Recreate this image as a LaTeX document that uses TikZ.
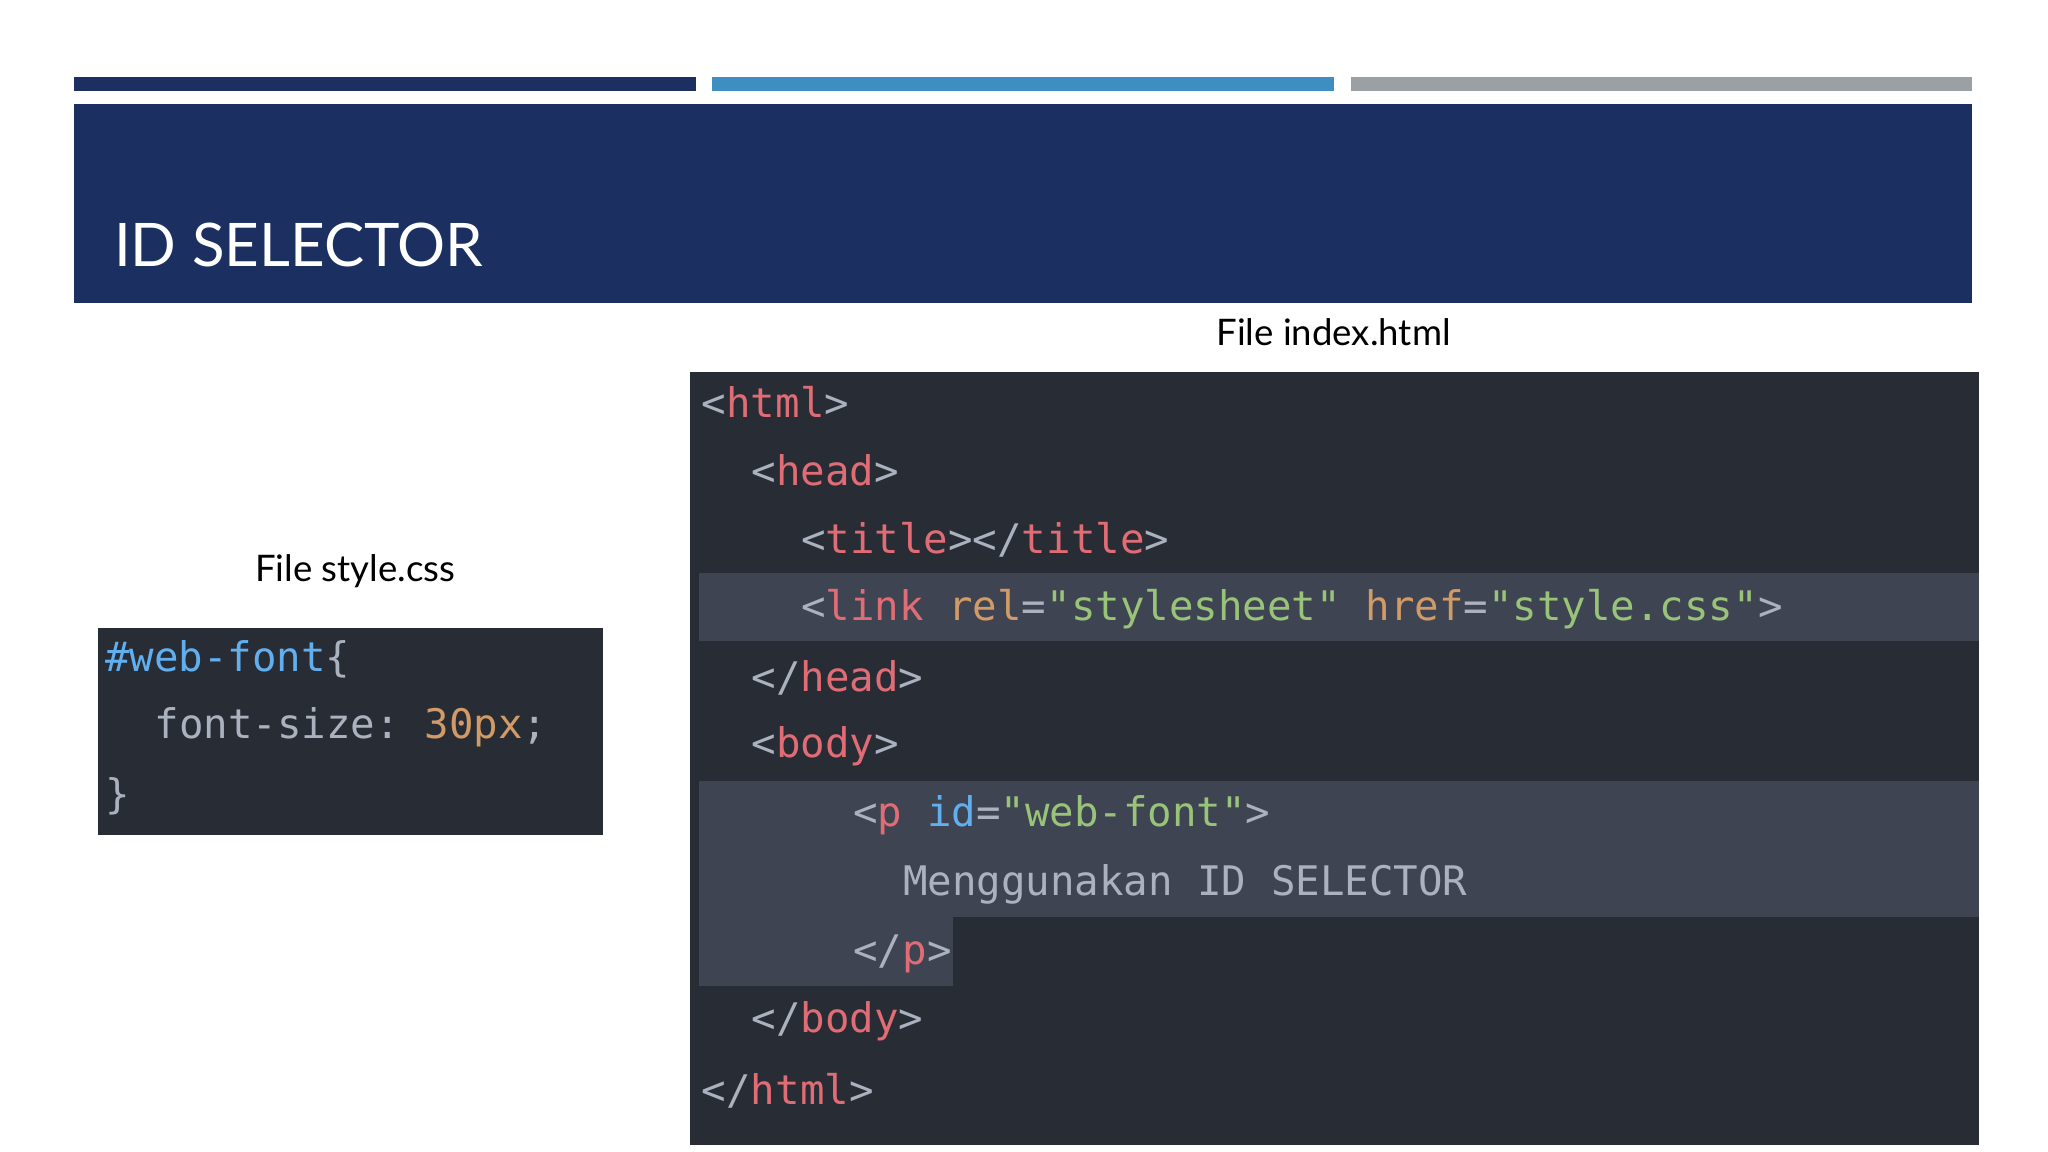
\documentclass[tikz,border=0pt]{standalone}
\usepackage{fontspec}
\setmainfont{Lato}
\setmonofont{DejaVu Sans Mono}
\definecolor{navy}{HTML}{1B3061}
\definecolor{bblue}{HTML}{3E8EC2}
\definecolor{bgray}{HTML}{9AA0A4}
\definecolor{codebg}{HTML}{282C34}
\definecolor{hl}{HTML}{3E4451}
\definecolor{tg}{HTML}{E06C75}
\definecolor{pl}{HTML}{ABB2BF}
\definecolor{at}{HTML}{D19A66}
\definecolor{st}{HTML}{98C379}
\definecolor{bl}{HTML}{61AFEF}
\newcommand{\T}[1]{\textcolor{tg}{#1}}
\newcommand{\Pp}[1]{\textcolor{pl}{#1}}
\newcommand{\A}[1]{\textcolor{at}{#1}}
\newcommand{\Sg}[1]{\textcolor{st}{#1}}
\newcommand{\B}[1]{\textcolor{bl}{#1}}
\tikzset{code/.style={anchor=west,inner sep=0pt,font=\ttfamily\fontsize{15.6}{16}\selectfont,text=pl},
lab/.style={inner sep=0pt,font=\fontsize{14}{16}\selectfont}}
\begin{document}
\begin{tikzpicture}[x=0.5pt,y=-0.5pt]
\useasboundingbox[fill=white] (0,0) rectangle (1568,882);
\fill[navy] (57,59) rectangle (533,70);
\fill[bblue] (545,59) rectangle (1021,70);
\fill[bgray] (1034,59) rectangle (1510,70);
\fill[navy] (57,80) rectangle (1510,232);
\node[anchor=base west,inner sep=0pt,text=white,font=\fontsize{23}{26}\selectfont] (title) at (87,204) {ID SELECTOR};
\node[lab] (l1) at (1021,254) {File index.html};
\node[lab] (l2) at (272,437) {File style.css};
\fill[codebg] (528,285) rectangle (1515,877);
\fill[hl] (535,439) rectangle (1515,491);
\fill[hl] (535,598) rectangle (1515,702);
\fill[hl] (535,702) rectangle (730,755);
\node[code] (c1) at (537,308) {\Pp{<}\T{html}\Pp{>}};
\node[code] (c2) at (575,360) {\Pp{<}\T{head}\Pp{>}};
\node[code] (c3) at (613,413) {\Pp{<}\T{title}\Pp{></}\T{title}\Pp{>}};
\node[code] (c4) at (613,466) {\Pp{<}\T{link} \A{rel}\Pp{=}\Sg{"stylesheet"} \A{href}\Pp{=}\Sg{"style.css"}\Pp{>}};
\node[code] (c5) at (575,519) {\Pp{</}\T{head}\Pp{>}};
\node[code] (c6) at (575,571) {\Pp{<}\T{body}\Pp{>}};
\node[code] (c7) at (653,624) {\Pp{<}\T{p} \B{id}\Pp{=}\Sg{"web-font"}\Pp{>}};
\node[code] (c8) at (691,677) {Menggunakan ID SELECTOR};
\node[code] (c9) at (653,730) {\Pp{</}\T{p}\Pp{>}};
\node[code] (c10) at (575,782) {\Pp{</}\T{body}\Pp{>}};
\node[code] (c11) at (537,835) {\Pp{</}\T{html}\Pp{>}};
\fill[codebg] (75,481) rectangle (462,639);
\node[code] (s1) at (80,505) {\B{\#web-font}\Pp{\{}};
\node[code] (s2) at (118,557) {font-size: \A{30px};};
\node[code] (s3) at (80,610) {\}};
\end{tikzpicture}
\end{document}
